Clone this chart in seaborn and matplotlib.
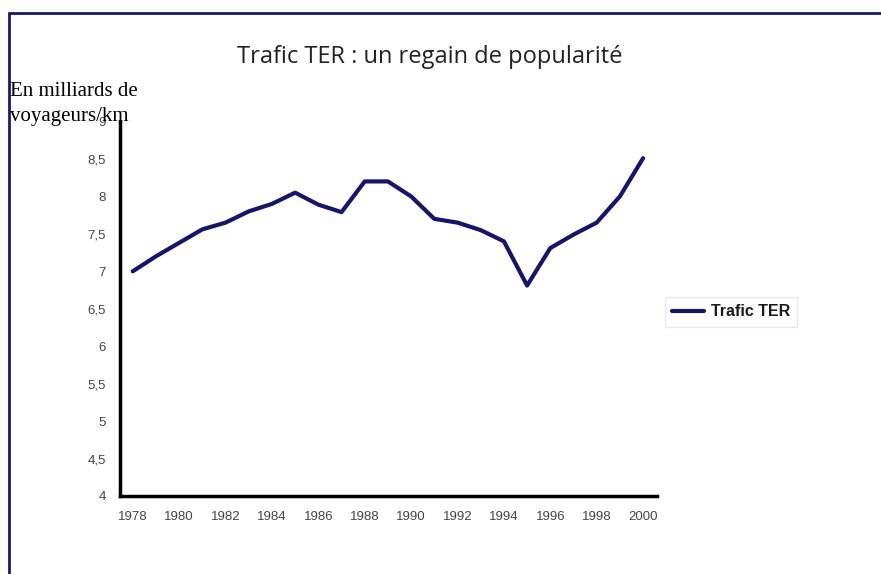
import numpy as np
import pandas as pd
import matplotlib.pyplot as plt
from matplotlib.lines import Line2D
import seaborn as sns

# Données (milliards de voyageurs/km)
annees = list(range(1978, 2001))
trafic = [7.0, 7.2, 7.38, 7.56, 7.65, 7.8, 7.9, 8.05, 7.89, 7.79, 8.2, 8.2,
          8.0, 7.7, 7.65, 7.55, 7.4, 6.81, 7.31, 7.49, 7.65, 8.0, 8.51]
yticks = [4, 4.5, 5, 5.5, 6, 6.5, 7, 7.5, 8, 8.5, 9]
xticks = list(range(1978, 2001, 2))

df = pd.DataFrame({'annee': annees, 'trafic': trafic})

sns.set_style('white')
plt.rcParams['font.family'] = ['Liberation Sans', 'DejaVu Sans']

fig = plt.figure(figsize=(8.81, 5.74), dpi=100)
W, H = 881, 574
ax = fig.add_axes([120 / W, 1 - 496 / H, (657 - 120) / W, (496 - 121.5) / H])

sns.lineplot(data=df, x='annee', y='trafic', ax=ax, color='#15156a',
             linewidth=3, label='Trafic TER')

ax.set_xlim(1977.45, 2000.6)
ax.set_ylim(4, 9)
ax.set_xticks(xticks)
ax.set_yticks(yticks)
ax.set_yticklabels([f'{v:g}'.replace('.', ',') for v in yticks])
ax.tick_params(axis='x', length=0, labelsize=9.5, labelcolor='#444444', pad=11)
ax.tick_params(axis='y', length=0, labelsize=9.5, labelcolor='#444444', pad=10)
ax.set_xlabel('')
ax.set_ylabel('')
for s in ['top', 'right']:
    ax.spines[s].set_visible(False)
for s in ['left', 'bottom']:
    ax.spines[s].set_color('black')
    ax.spines[s].set_linewidth(2.5)

leg = ax.legend(loc='center left', bbox_to_anchor=(665 / W, 1 - 312 / H),
                bbox_transform=fig.transFigure, frameon=True, fancybox=False,
                prop={'weight': 'bold', 'size': 11.5}, handlelength=2.0,
                handletextpad=0.4, borderpad=0.45, borderaxespad=0)
leg.get_frame().set_edgecolor('#e4e4e4')
leg.get_frame().set_linewidth(1)
for t in leg.get_texts():
    t.set_color('#1a1a1a')

fig.text(430 / W, 1 - 57 / H, 'Trafic TER : un regain de popularité',
         ha='center', va='center', fontsize=17, family=['Open Sans', 'DejaVu Sans'],
         color='#222222')
fig.text(10 / W, 1 - 92 / H, 'En milliards de', ha='left', va='center',
         fontsize=15, family=['Liberation Serif', 'DejaVu Serif'], color='black')
fig.text(10 / W, 1 - 116 / H, 'voyageurs/km', ha='left', va='center',
         fontsize=15, family=['Liberation Serif', 'DejaVu Serif'], color='black')

# cadre bleu marine en haut et à gauche
fig.add_artist(Line2D([9 / W, 1], [1 - 13 / H, 1 - 13 / H], color='#1a1a6e', linewidth=2,
                      transform=fig.transFigure))
fig.add_artist(Line2D([9 / W, 9 / W], [0, 1 - 13 / H], color='#1a1a6e', linewidth=2,
                      transform=fig.transFigure))

fig.savefig('out.png', dpi=100)
